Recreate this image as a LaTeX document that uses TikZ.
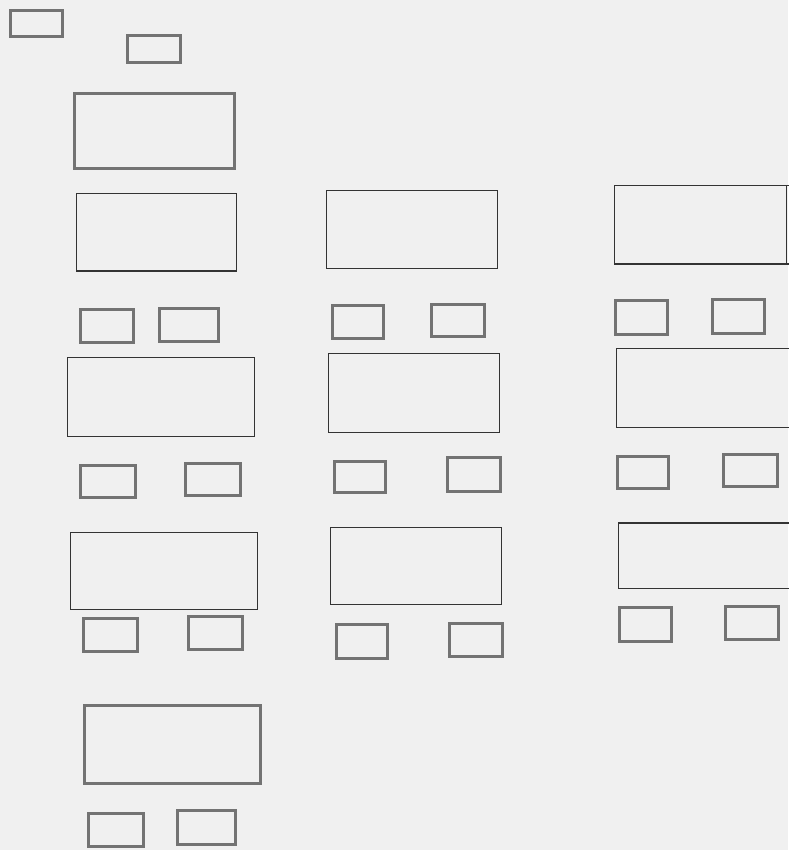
\documentclass[tikz,border=0pt]{standalone}
\begin{document}
\begin{tikzpicture}[x=1pt,y=-1pt,
  seat/.style={draw=black!55,line width=3pt},
  desk/.style={draw=black!80,line width=1.6pt},
  deskthick/.style={draw=black!55,line width=3pt}]
\fill[black!6] (0,0) rectangle (788,850);
\useasboundingbox (0,0) rectangle (788,850);
% front
\draw[seat] (10.5,10.5) rectangle (62,37);
\draw[seat] (127.5,35.5) rectangle (180,62.5);
\draw[deskthick] (74.5,93.5) rectangle (234.5,168.5);
\draw[desk] (76.5,193.5) rectangle (236.5,271);
% column 1
\draw[seat] (80.5,309.5) rectangle (133.5,342.5);
\draw[seat] (159.5,308.5) rectangle (218.5,341.5);
\draw[desk] (67.5,357.5) rectangle (254.5,436.5);
\draw[seat] (80.5,465.5) rectangle (135.5,497.5);
\draw[seat] (185.5,463.5) rectangle (240.5,495.5);
\draw[desk] (70.5,532.5) rectangle (257.5,609.5);
\draw[seat] (83.5,618.5) rectangle (137.5,651.5);
\draw[seat] (188.5,616.5) rectangle (242.5,649.5);
\draw[deskthick] (84.5,705.5) rectangle (260.5,783.5);
\draw[seat] (88.5,813.5) rectangle (143.5,846.5);
\draw[seat] (177.5,810.5) rectangle (235.5,844.5);
% column 2
\draw[desk] (326.5,190.5) rectangle (497.5,268.5);
\draw[seat] (332.5,305.5) rectangle (383.5,338.5);
\draw[seat] (431.5,304.5) rectangle (484.5,336.5);
\draw[desk] (328.5,353.5) rectangle (499.5,432.5);
\draw[seat] (334.5,461.5) rectangle (385.5,492.5);
\draw[seat] (447.5,457.5) rectangle (500.5,491.5);
\draw[desk] (330.5,527.5) rectangle (501.5,604.5);
\draw[seat] (336.5,624.5) rectangle (387.5,658.5);
\draw[seat] (449.5,623.5) rectangle (502.5,656.5);
% column 3
\draw[desk] (790,185.5) -- (614.5,185.5) -- (614.5,264) -- (790,264);
\draw[desk] (786.5,185.5) -- (786.5,264);
\draw[seat] (615.5,300.5) rectangle (667.5,334.5);
\draw[seat] (712.5,299.5) rectangle (764,333);
\draw[desk] (790,348.5) -- (616.5,348.5) -- (616.5,427.5) -- (790,427.5);
\draw[seat] (617.5,456.5) rectangle (668,488);
\draw[seat] (723.5,454.5) rectangle (777,486);
\draw[desk] (790,523) -- (618.5,523) -- (618.5,588.5) -- (790,588.5);
\draw[seat] (619.5,607.5) rectangle (671,641.5);
\draw[seat] (725.5,606.5) rectangle (778.5,639.5);
\end{tikzpicture}
\end{document}
